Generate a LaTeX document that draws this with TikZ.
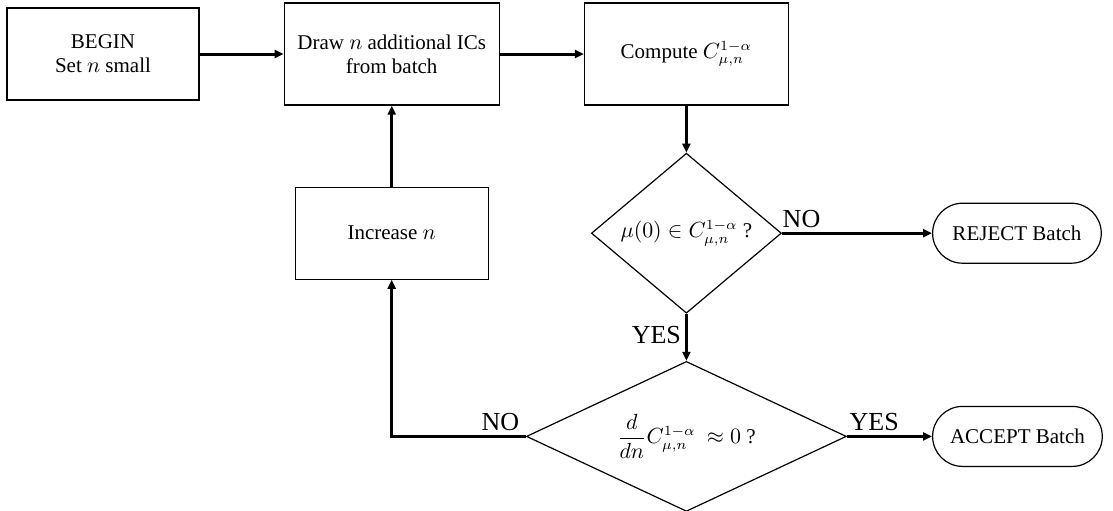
\documentclass[tikz,border=0pt]{standalone}
\usepackage{fontspec}
\setmainfont{Liberation Serif}
\usepackage{amsmath}
\usetikzlibrary{positioning,shapes.geometric,shapes.misc,arrows.meta}

\tikzstyle{blk} = [rectangle, draw=black, line width=0.6pt, align=center, font=\fontsize{10.5}{12}\selectfont]
\tikzstyle{dec} = [diamond, draw=black, line width=0.6pt, inner sep=0pt, font=\fontsize{10.5}{12}\selectfont]
\tikzstyle{term} = [rounded rectangle, draw=black, line width=0.6pt, font=\fontsize{10.5}{12}\selectfont]
\tikzstyle{lbl} = [font=\fontsize{13}{15}\selectfont, inner sep=2pt]

\begin{document}
\begin{tikzpicture}[node distance=42pt, line width=1.5pt, >={Triangle[length=4.5pt,width=4pt]}]
\useasboundingbox (0,0) rectangle (556.5pt,-255pt);

\node[blk, minimum width=96pt, minimum height=46pt] (begin) at (51.5pt,-27pt) {BEGIN\\Set $n$ small};
\node[blk, minimum width=107.5pt, minimum height=51pt] (draw) [right=of begin] {Draw $n$ additional ICs\\from batch};
\node[blk, minimum width=102pt, minimum height=51pt] (comp) [right=of draw] {Compute $C^{1-\alpha}_{\mu,n}$};

\node[dec, minimum width=95pt, minimum height=80pt, aspect=1.19] (test) [below=23.5pt of comp] {$\mu(0) \in C^{1-\alpha}_{\mu,n}$ ?};
\node[dec, minimum width=160pt, minimum height=75pt, aspect=2.13] (conv) [below=23.5pt of test] {$\dfrac{d}{dn}C^{1-\alpha}_{\mu,n}\ \approx 0$ ?};

\node[blk, minimum width=96.5pt, minimum height=46pt] (inc) [below=40.5pt of draw] {Increase $n$};

\node[term, minimum width=91pt, minimum height=30pt] (rej) [right=75pt of test] {REJECT Batch};
\node[term, minimum width=91.5pt, minimum height=30pt] (acc) [right=42.5pt of conv] {ACCEPT Batch};

\path[->, every node/.style={lbl}]
    (begin) edge (draw)
    (draw) edge (comp)
    (comp) edge (test)
    (test) edge node [above, pos=0.13] (no1) {NO} (rej)
    (test) edge node [left, pos=0.45] (yes1) {YES} (conv)
    (conv) edge node [above, pos=0.32] (yes2) {YES} (acc)
    (inc) edge (draw)
    ;
\draw[->] (conv.west) -| node [lbl, above, pos=0.095] (no2) {NO} (inc.south);

\end{tikzpicture}
\end{document}
